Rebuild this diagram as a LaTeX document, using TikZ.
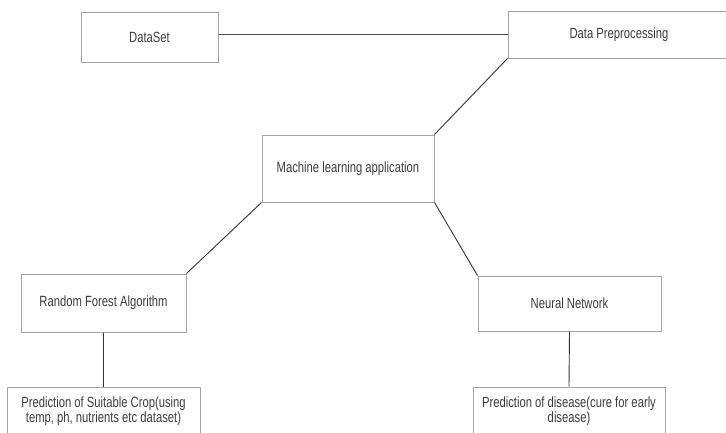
\documentclass[tikz,border=0pt]{standalone}
\usepackage{fontspec}
\setmainfont{Liberation Sans}[FakeStretch=0.76]
\usepackage{xcolor}
\usetikzlibrary{positioning}
\definecolor{boxline}{HTML}{A3A3A3}
\definecolor{txt}{HTML}{3C3C3C}
\definecolor{wire}{HTML}{333333}

\begin{document}
\begin{tikzpicture}[x=1pt, y=-1pt,
  box/.style={draw=boxline, line width=1pt, fill=white, text=txt, inner sep=2pt,
              align=center, font=\fontsize{14.8}{15.5}\selectfont},
  link/.style={wire, line width=0.9pt}
]
  \useasboundingbox (0,0) rectangle (726,432);
  \node[box, minimum width=137pt, minimum height=50pt] (ds) at (149.5,37) {DataSet};
  \node[box, minimum width=222pt, minimum height=47pt] (dp) at (619,34.5) {Data Preprocessing};
  \node[box, minimum width=172pt, minimum height=67pt] (ml) at (348,168.5) {Machine learning application};
  \node[box, minimum width=165pt, minimum height=58pt] (rf) at (103.5,303) {Random Forest Algorithm};
  \node[box, minimum width=183pt, minimum height=55pt] (nn) at (569.5,303.5) {Neural Network};
  \node[box, minimum width=193pt, minimum height=48pt] (crop) at (103.5,411) {Prediction of Suitable Crop(using\\ temp, ph, nutrients etc dataset)};
  \node[box, minimum width=192pt, minimum height=48pt] (dis) at (569,411) {Prediction of disease(cure for early\\ disease)};
  \draw[link, line width=1.4pt, draw=black!70] (ds.east |- dp.west) -- (dp.west);
  \draw[link] (dp.south west) -- (ml.north east);
  \draw[link] (ml.south west) -- (rf.north east);
  \draw[link] (ml.south east) -- (nn.north west);
  \draw[link] (rf.south) -- (crop.north);
  \draw[link] (nn.south) -- (dis.north);
\end{tikzpicture}
\end{document}
